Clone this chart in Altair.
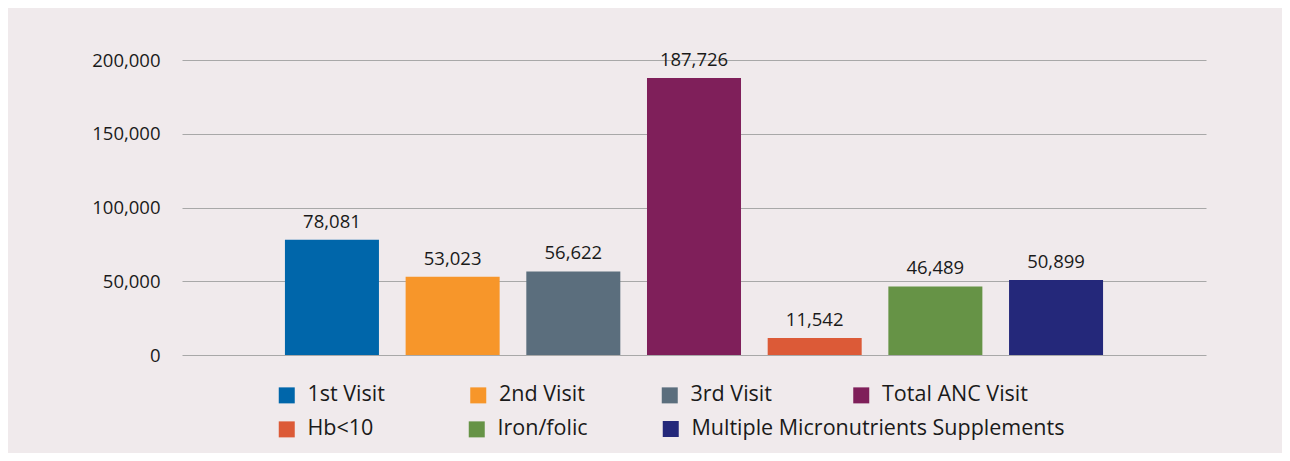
import altair as alt
import pandas as pd

categories = ["1st Visit", "2nd Visit", "3rd Visit", "Total ANC Visit",
              "Hb<10", "Iron/folic", "Multiple Micronutrients Supplements"]
values = [78081, 53023, 56622, 187726, 11542, 46489, 50899]
colors = ["#0066aa", "#f7962a", "#5b6e7d", "#7f1f5a", "#dc5a37", "#669346", "#24287a"]
legend_group = [1, 1, 1, 1, 2, 2, 3]
y_ticks = [0, 50000, 100000, 150000, 200000]

df = pd.DataFrame({"category": categories, "value": values, "group": legend_group})

FONT = "Open Sans"
TXT = "#1a1a1a"

x_enc = alt.X("category:N",
              scale=alt.Scale(domain=categories, paddingInner=0.221, paddingOuter=0.853),
              axis=None)
y_enc = alt.Y("value:Q",
              scale=alt.Scale(domain=[0, 200000]),
              axis=alt.Axis(values=y_ticks, format=",.0f", title=None, domain=False, ticks=False,
                            labelFontSize=18.5, labelColor=TXT, labelFont=FONT, labelPadding=22,
                            gridColor="#a8a8a8", gridWidth=1))

legend_pos = {1: (94, 324.25, 13.5), 2: (94, 358.25, 68), 3: (478, 358.25, 10)}


def bar_layer(g):
    cats = [c for c, gg in zip(categories, legend_group) if gg == g]
    cols = [col for col, gg in zip(colors, legend_group) if gg == g]
    lx, ly, cp = legend_pos[g]
    return alt.Chart(df).transform_filter(alt.datum.group == g).mark_bar().encode(
        x=x_enc,
        y=y_enc,
        color=alt.Color("category:N",
                        scale=alt.Scale(domain=cats, range=cols),
                        legend=alt.Legend(title=None, orient="none", legendX=lx, legendY=ly,
                                          direction="horizontal", columns=len(cats),
                                          gridAlign="all", columnPadding=cp,
                                          symbolType="square", symbolSize=256,
                                          symbolStrokeWidth=0,
                                          labelFontSize=21.5, labelFont=FONT, labelColor=TXT,
                                          labelOffset=10, padding=0, labelLimit=600)),
    )


text = alt.Chart(df).mark_text(dy=-12, baseline="alphabetic", fontSize=18.5, font=FONT,
                               color=TXT).encode(
    x=x_enc,
    y=y_enc,
    text=alt.Text("value:Q", format=","),
)

chart = alt.layer(bar_layer(1), bar_layer(2), bar_layer(3), text).resolve_scale(
    color="independent"
).properties(
    width=1024,
    height=295,
    autosize=alt.AutoSizeParams(type="none"),
    padding={"left": 174, "top": 52, "right": 76, "bottom": 98},
).configure(
    background="#f0eaec",
).configure_view(stroke=None)

chart.save("out.html", embed_options={"renderer": "svg", "actions": False})
